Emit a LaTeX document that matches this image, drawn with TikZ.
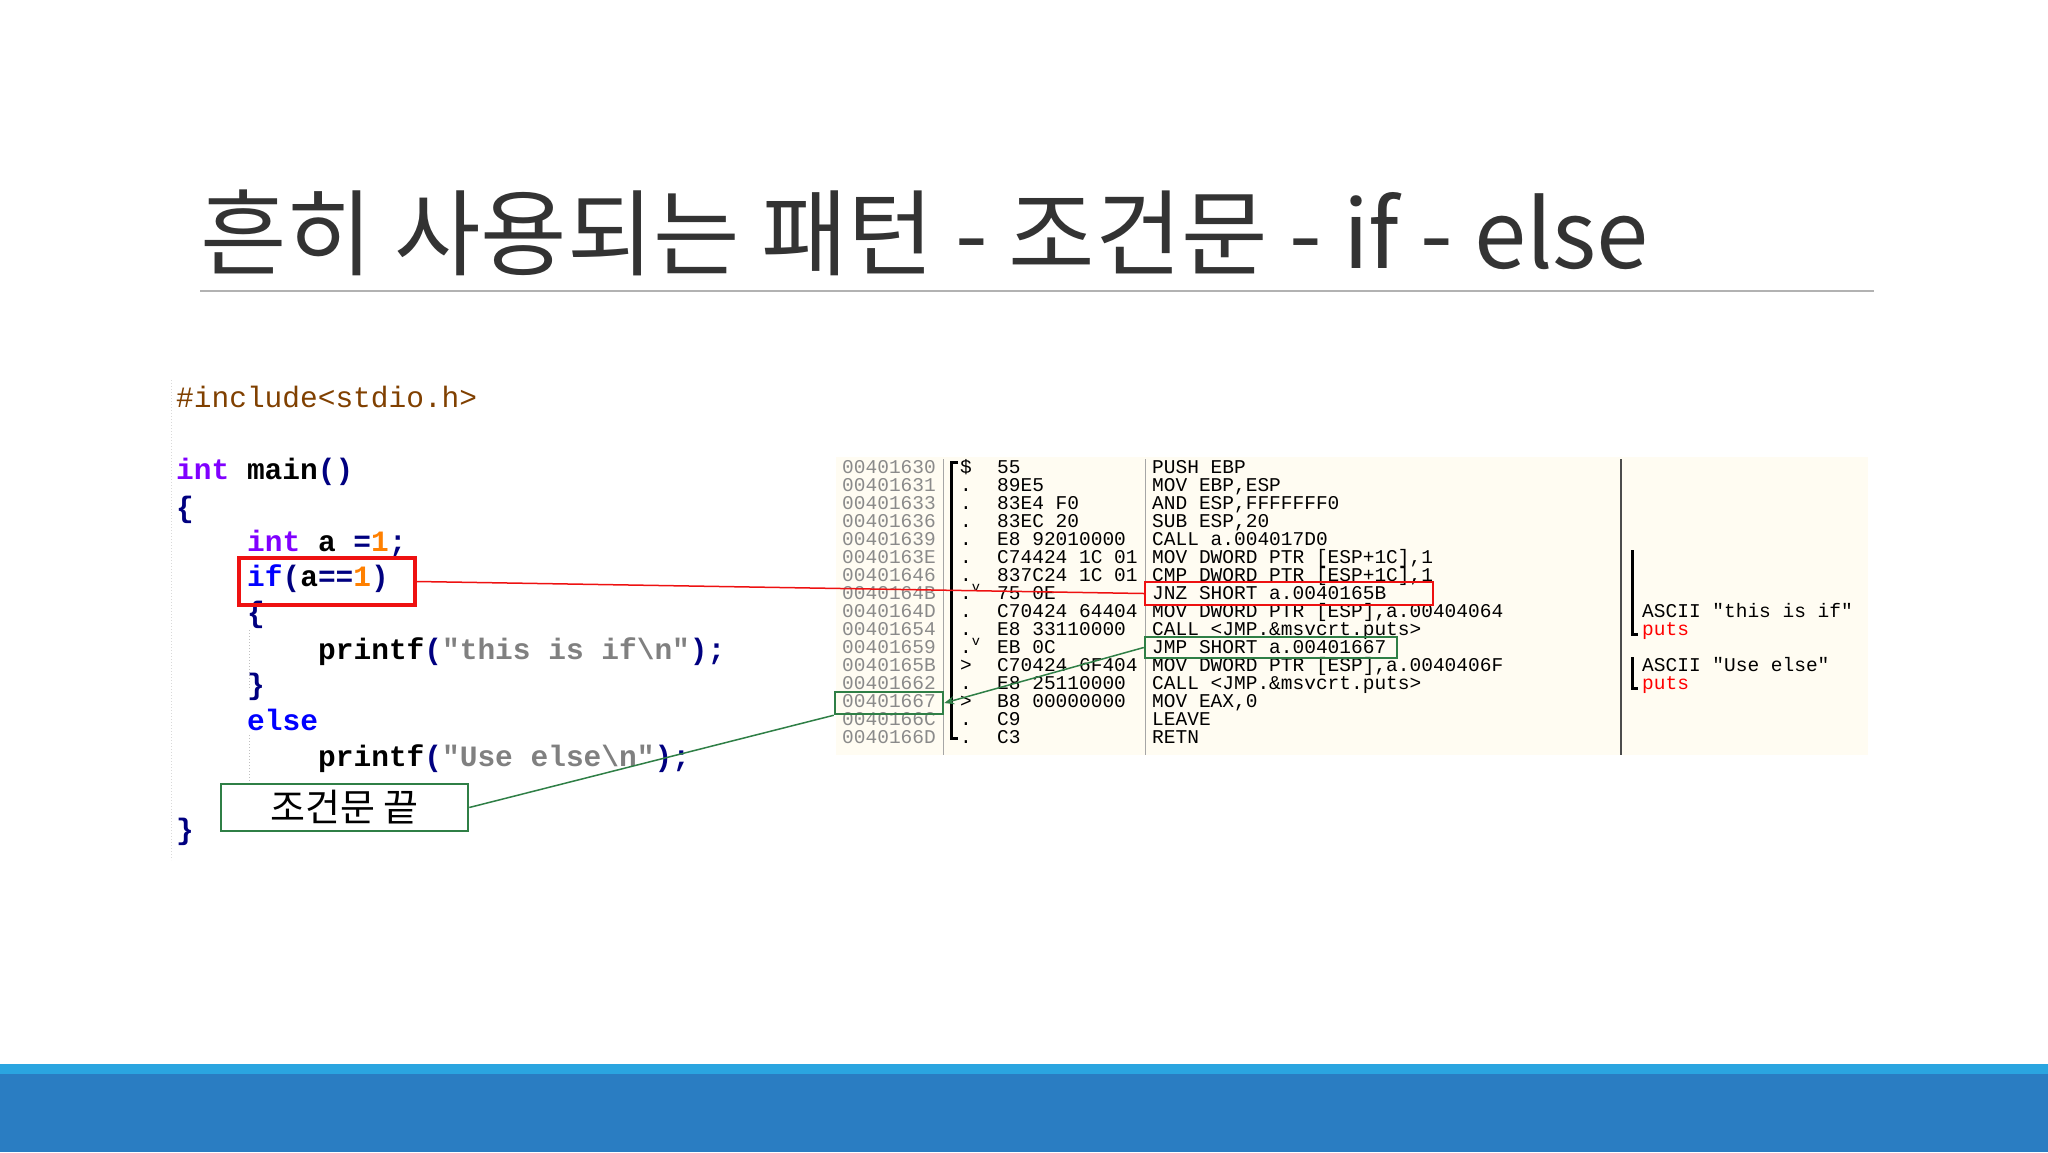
\documentclass[tikz,border=0pt]{standalone}
\usepackage{fontspec}
\setmainfont{Liberation Sans}
\setmonofont{Liberation Mono}
\newfontfamily\kr{Noto Sans CJK KR}
\usetikzlibrary{arrows.meta}
\definecolor{bgcream}{HTML}{FFFCF2}
\definecolor{kwpurple}{HTML}{8000FF}
\definecolor{kwblue}{HTML}{0000FF}
\definecolor{numor}{HTML}{FF8000}
\definecolor{strgray}{HTML}{808080}
\definecolor{incbrown}{HTML}{804000}
\definecolor{opnavy}{HTML}{000080}
\definecolor{boxred}{HTML}{EE1111}
\definecolor{boxgreen}{HTML}{2F7F46}
\definecolor{barlight}{HTML}{2AA5E0}
\definecolor{bardark}{HTML}{2A7DC2}
\definecolor{addrgray}{HTML}{8A8A8A}
\tikzset{
 code/.style={anchor=base west,inner sep=0pt,font=\fontsize{29.5}{30}\selectfont\ttfamily\bfseries},
 dis/.style={anchor=base west,inner sep=0pt,font=\fontsize{19.5}{20}\selectfont\ttfamily},
 redbox/.style={draw=boxred,line width=4pt},
 greenbox/.style={draw=boxgreen,line width=2.5pt},
}
\newcommand\drow[5]{%
 \node[dis,text=addrgray] (ad#1) at (842,{473+18*#1}) {#2};
 \node[dis] (mk#1) at (960,{473+18*#1}) {#3};
 \node[dis] (hx#1) at (997,{473+18*#1}) {#4};
 \node[dis] (in#1) at (1152,{473+18*#1}) {#5};
}
\begin{document}
\begin{tikzpicture}[x=1pt,y=-1pt]
\useasboundingbox (0,0) rectangle (2048,1152);
\fill[white] (0,0) rectangle (2048,1152);
% title
\node[anchor=base west,inner sep=0pt,font=\kr\fontsize{94}{98}\selectfont,text=black!80] (title) at (200,268) {흔히 사용되는 패턴 - 조건문 - if - else};
\draw[gray!60,line width=1.5pt] (200,291) -- (1874,291);
% bars
\fill[barlight] (0,1064) rectangle (2048,1074);
\fill[bardark] (0,1074) rectangle (2048,1152);
% code panel
\draw[gray!30,dotted,line width=1pt] (171,380) -- (171,860);
\draw[gray!50,dotted,line width=1pt] (249,630) -- (249,690);
\draw[gray!50,dotted,line width=1pt] (249,735) -- (249,815);
\node[code,text=incbrown,font=\fontsize{29.5}{30}\selectfont\ttfamily] (inc) at (176,407) {\#include<stdio.h>};
\node[code] (mainl) at (176,479) {\textcolor{kwpurple}{int} main\textcolor{opnavy}{()}};
\node[code,text=opnavy] (ob1) at (176,517) {\{};
\node[code] (decl) at (247,551) {\textcolor{kwpurple}{int} a \textcolor{opnavy}{=}\textcolor{numor}{1}\textcolor{opnavy}{;}};
\node[code] (ifl) at (247,586) {\textcolor{kwblue}{if}\textcolor{opnavy}{(}a\textcolor{opnavy}{==}\textcolor{numor}{1}\textcolor{opnavy}{)}};
\node[code,text=opnavy] (ob2) at (247,622) {\{};
\node[code] (pr1) at (318,659) {printf\textcolor{opnavy}{(}\textcolor{strgray}{"this is if\textbackslash n"}\textcolor{opnavy}{);}};
\node[code,text=opnavy] (cb2) at (247,694) {\}};
\node[code,text=kwblue] (elsel) at (247,730) {else};
\node[code] (pr2) at (318,766) {printf\textcolor{opnavy}{(}\textcolor{strgray}{"Use else\textbackslash n"}\textcolor{opnavy}{);}};
\node[code,text=opnavy] (cb1) at (176,839) {\}};
\node[redbox,minimum width=176pt,minimum height=47pt,inner sep=0pt] (ifbox) at (327,581.5) {};
\node[greenbox,fill=white,minimum width=247pt,minimum height=47pt,inner sep=0pt,font=\kr\fontsize{38}{40}\selectfont] (endbox) at (344.5,807.5) {조건문 끝};
% disassembly panel
\fill[bgcream] (836,457) rectangle (1868,755);
\draw[gray!70,line width=1pt] (943,459) -- (943,755);
\draw[gray!70,line width=1pt] (1145,459) -- (1145,755);
\draw[black!70,line width=1.5pt] (1621,459) -- (1621,755);
\draw[line width=3pt] (958,462) -- (951,462) -- (951,738) -- (958,738);
\drow{0}{00401630}{\$}{55}{PUSH EBP}
\drow{1}{00401631}{.}{89E5}{MOV EBP,ESP}
\drow{2}{00401633}{.}{83E4 F0}{AND ESP,FFFFFFF0}
\drow{3}{00401636}{.}{83EC 20}{SUB ESP,20}
\drow{4}{00401639}{.}{E8 92010000}{CALL a.004017D0}
\drow{5}{0040163E}{.}{C74424 1C 01}{MOV DWORD PTR [ESP+1C],1}
\drow{6}{00401646}{.}{837C24 1C 01}{CMP DWORD PTR [ESP+1C],1}
\drow{7}{0040164B}{.\textsuperscript{v}}{75 0E}{JNZ SHORT a.0040165B}
\drow{8}{0040164D}{.}{C70424 64404}{MOV DWORD PTR [ESP],a.00404064}
\drow{9}{00401654}{.}{E8 33110000}{CALL <JMP.\&msvcrt.puts>}
\drow{10}{00401659}{.\textsuperscript{v}}{EB 0C}{JMP SHORT a.00401667}
\drow{11}{0040165B}{>}{C70424 6F404}{MOV DWORD PTR [ESP],a.0040406F}
\drow{12}{00401662}{.}{E8 25110000}{CALL <JMP.\&msvcrt.puts>}
\drow{13}{00401667}{>}{B8 00000000}{MOV EAX,0}
\drow{14}{0040166C}{.}{C9}{LEAVE}
\drow{15}{0040166D}{.}{C3}{RETN}
% comments
\draw[line width=3pt] (1632,550) -- (1632,634) -- (1638,634);
\draw[line width=3pt] (1632,657) -- (1632,688) -- (1638,688);
\node[dis] (c1) at (1642,617) {ASCII "this is if"};
\node[dis,text=red] (c2) at (1642,635) {puts};
\node[dis] (c3) at (1642,671) {ASCII "Use else"};
\node[dis,text=red] (c4) at (1642,689) {puts};
% boxes in disassembly
\node[draw=boxred,line width=2.5pt,minimum width=288pt,minimum height=23pt,inner sep=0pt] (jnzbox) at (1289,593.5) {};
\node[draw=boxgreen,line width=2.5pt,minimum width=252pt,minimum height=21pt,inner sep=0pt] (jmpbox) at (1271,647.5) {};
\node[draw=boxgreen,line width=2.5pt,minimum width=108pt,minimum height=22pt,inner sep=0pt] (addrbox) at (889,703) {};
% connectors
\draw[boxred,line width=1.5pt] (ifbox.east) -- (jnzbox.west);
\draw[boxgreen,line width=1.5pt] (endbox.east) -- (addrbox.south west);
\draw[boxgreen,line width=1.5pt,-{Stealth[length=10pt,width=8pt]}] (jmpbox.west) -- (addrbox.east);
\end{tikzpicture}
\end{document}
